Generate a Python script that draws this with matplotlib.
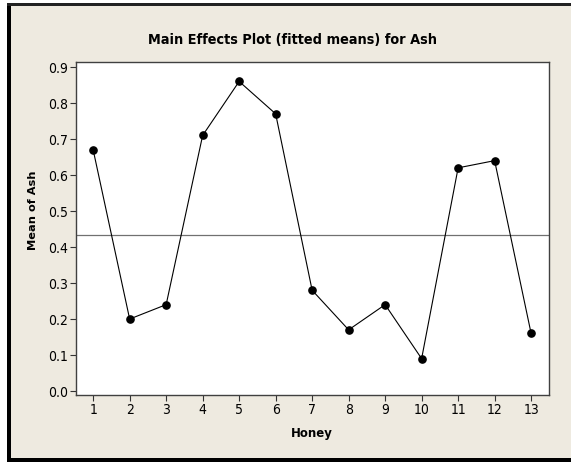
import matplotlib
matplotlib.use('Agg')
import matplotlib.pyplot as plt
from matplotlib.patches import Rectangle
import numpy as np

# fitted means of Ash for each honey sample
honey = list(range(1, 14))
ash_means = [0.67, 0.20, 0.24, 0.71, 0.86, 0.77, 0.28, 0.17, 0.24, 0.09, 0.62, 0.64, 0.16]
y_ticks = [0.0, 0.1, 0.2, 0.3, 0.4, 0.5, 0.6, 0.7, 0.8, 0.9]

W, H = 571, 462
plt.rcParams['font.family'] = ['DejaVu Sans']
plt.rcParams['font.stretch'] = 'condensed'

fig = plt.figure(figsize=(W / 100, H / 100), dpi=100, facecolor='white')


def px(x, y):
    # pixel coords (top-left origin) -> figure fraction
    return x / W, 1 - y / H


# beige panel with dark frame on top, left and bottom
x0, y0 = px(9, 458)
fig.add_artist(Rectangle((x0, y0), 1 - x0, px(0, 5)[1] - y0, transform=fig.transFigure,
                         facecolor='#EEEAE0', edgecolor='none', zorder=-5))
fig.add_artist(Rectangle(px(7, 462), 4 / W, 458 / H, transform=fig.transFigure,
                         facecolor='black', edgecolor='none', zorder=-4))
fig.add_artist(Rectangle(px(7, 6), 1, 3 / H, transform=fig.transFigure,
                         facecolor='#222222', edgecolor='none', zorder=-4))
fig.add_artist(Rectangle(px(7, 462), 1, 4 / H, transform=fig.transFigure,
                         facecolor='black', edgecolor='none', zorder=-4))

l, t = px(76, 62)
r, b = px(549, 395)
ax = fig.add_axes([l, b, r - l, t - b])
ax.set_facecolor('white')

ax.plot(honey, ash_means, color='black', lw=0.8, marker='o', ms=5.2, zorder=3)
ax.axhline(np.mean(ash_means), color='#707070', lw=0.9, zorder=2)

ax.set_xlim(0.53, 13.49)
ax.set_ylim(-0.011, 0.914)
ax.set_xticks(honey)
ax.set_yticks(y_ticks)
ax.set_yticklabels([f'{v:.1f}' for v in y_ticks])
ax.tick_params(direction='out', length=4, width=0.8, color='#333333', labelsize=10, pad=2)
for s in ax.spines.values():
    s.set_color('#404040')
    s.set_linewidth(1.0)

fig.text(px(292, 0)[0], px(0, 40)[1], 'Main Effects Plot (fitted means) for Ash',
         ha='center', va='center', fontsize=10.4, fontweight='bold')
fig.text(px(312, 0)[0], px(0, 433)[1], 'Honey', ha='center', va='center',
         fontsize=8.5, fontweight='bold', stretch='normal')
fig.text(px(33, 0)[0], px(0, 210)[1], 'Mean of Ash', ha='center', va='center',
         rotation=90, fontsize=8.2, fontweight='bold', stretch='normal')

fig.savefig('out.png', dpi=100, facecolor=fig.get_facecolor())
